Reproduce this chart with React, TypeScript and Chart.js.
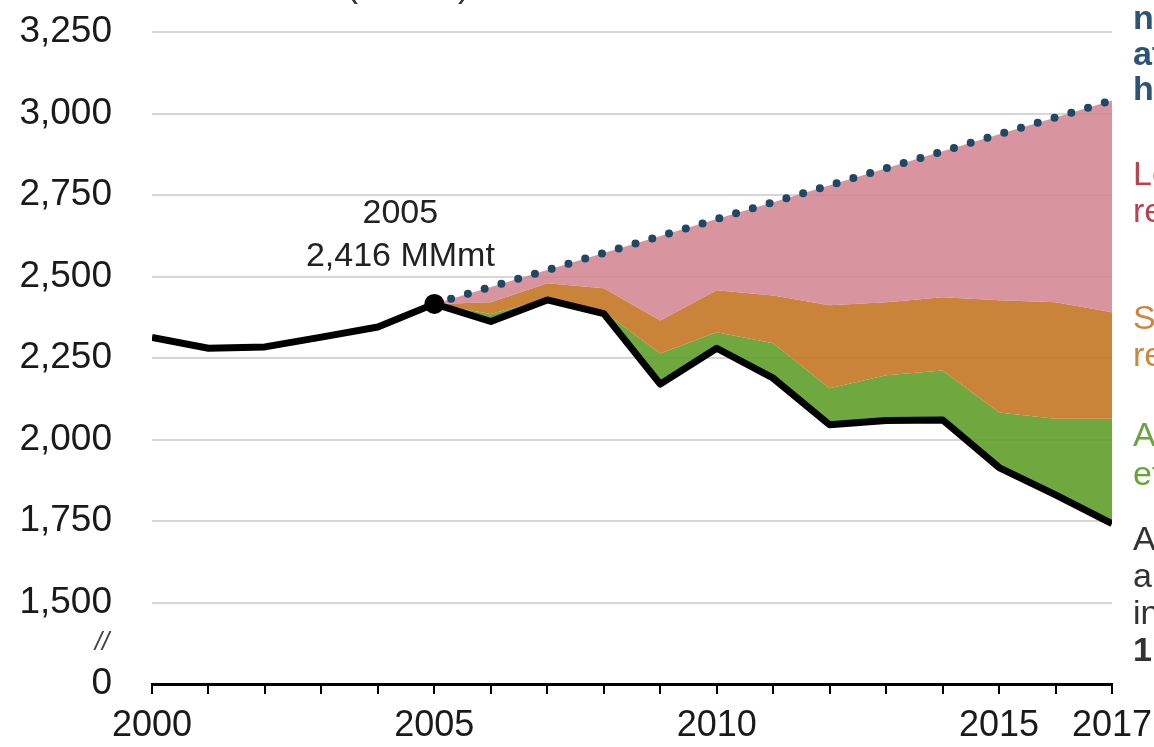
import React, { useEffect, useRef } from "react";
import { Chart, registerables } from "chart.js";

Chart.register(...registerables);

const years = [2000, 2001, 2002, 2003, 2004, 2005, 2006, 2007, 2008, 2009, 2010, 2011, 2012, 2013, 2014, 2015, 2016, 2017];
const actualEmissions = [2313, 2280, 2284, 2314, 2345, 2416, 2362, 2428, 2386, 2170, 2280, 2188, 2045, 2058, 2060, 1914, 1830, 1742];
const efficiencyTop = [null, null, null, null, null, 2416, 2385, 2432, 2392, 2264, 2329, 2295, 2157, 2197, 2212, 2083, 2064, 2064];
const switchTop = [null, null, null, null, null, 2416, 2421, 2479, 2464, 2365, 2458, 2442, 2412, 2421, 2436, 2427, 2421, 2390];
const trendNoAction = [null, null, null, null, null, 2416, 2468, 2520, 2572, 2624, 2676, 2728, 2780, 2832, 2884, 2936, 2988, 3040];
const labeledYears = [2000, 2005, 2010, 2015, 2017];
const yTicks = [1250, 1500, 1750, 2000, 2250, 2500, 2750, 3000, 3250];
const yTickLabels = ["0", "1,500", "1,750", "2,000", "2,250", "2,500", "2,750", "3,000", "3,250"];

const rightLabels = [
  { lines: ["no changes", "at 2005 rates", "had occurred"], color: "#2c5575", bold: true, y: [20, 56, 91] },
  { lines: ["Lower-carbon", "renewables"], color: "#b4444f", bold: false, y: [176, 213] },
  { lines: ["Switch to", "resources"], color: "#c9883f", bold: false, y: [320, 357] },
  { lines: ["Avoided", "efficiency"], color: "#6aa33d", bold: false, y: [437, 476] },
  { lines: ["Actual", "annual emissions", "in 2017", "1,742 MMmt"], color: "#333333", bold: false, y: [541, 578, 615, 652], lastBold: true },
];

const FONT = "'Liberation Sans', Arial, sans-serif";

const toPts = (arr: (number | null)[]) => years.map((yr, i) => ({ x: yr, y: arr[i] }));

const extrasPlugin = {
  id: "extras",
  afterDraw(chart: any) {
    const ctx = chart.ctx;
    const xs = chart.scales.x;
    const ys = chart.scales.y;
    ctx.save();
    const px = xs.getPixelForValue(2005);
    const py = ys.getPixelForValue(actualEmissions[5]);
    ctx.fillStyle = "#222";
    ctx.font = `34px ${FONT}`;
    ctx.textAlign = "center";
    ctx.textBaseline = "middle";
    ctx.fillText("2005", px - 34, py - 90);
    ctx.fillText("2,416 MMmt", px - 34, py - 47);
    ctx.font = `italic 26px ${FONT}`;
    ctx.fillStyle = "#444";
    ctx.fillText("//", 102, (ys.getPixelForValue(1500) + ys.getPixelForValue(1250)) / 2);
    ctx.font = `36px ${FONT}`;
    ctx.textAlign = "left";
    ctx.textBaseline = "alphabetic";
    ctx.fillStyle = "#333";
    ctx.fillText("(MMmt)", 346, -4);
    ctx.textAlign = "left";
    ctx.textBaseline = "middle";
    const lx = chart.chartArea.right + 21;
    rightLabels.forEach((g) => {
      ctx.fillStyle = g.color;
      g.lines.forEach((t, i) => {
        const bold = g.bold || (g.lastBold && i === g.lines.length - 1);
        ctx.font = `${bold ? "bold " : ""}34px ${FONT}`;
        ctx.fillText(t, lx, g.y[i]);
      });
    });
    ctx.restore();
  },
};

export default function App() {
  const ref = useRef<HTMLCanvasElement | null>(null);
  useEffect(() => {
    if (!ref.current) return;
    const chart = new Chart(ref.current, {
      type: "line",
      data: {
        datasets: [
          {
            label: "Actual emissions",
            data: toPts(actualEmissions),
            borderColor: "#000",
            borderWidth: 7,
            fill: false,
            order: 0,
            borderJoinStyle: "round",
            pointRadius: (c: any) => (c.dataIndex === 5 ? 10 : 0),
            pointBackgroundColor: "#000",
            pointBorderWidth: 0,
          },
          {
            label: "Efficiency",
            data: toPts(efficiencyTop),
            borderWidth: 0,
            borderColor: "rgba(0,0,0,0)",
            backgroundColor: "rgba(96,158,43,0.9)",
            fill: 0,
            pointRadius: 0,
            order: 3,
          },
          {
            label: "Switch",
            data: toPts(switchTop),
            borderWidth: 0,
            borderColor: "rgba(0,0,0,0)",
            backgroundColor: "rgba(195,119,36,0.9)",
            fill: 1,
            pointRadius: 0,
            order: 2,
          },
          {
            label: "Trend",
            data: toPts(trendNoAction),
            borderColor: "#1e4866",
            borderWidth: 8,
            borderDash: [0, 17.5],
            borderCapStyle: "round",
            backgroundColor: "rgba(210,130,142,0.85)",
            fill: 2,
            pointRadius: 0,
            order: 1,
          },
        ],
      },
      options: {
        animation: false,
        responsive: false,
        events: [],
        layout: { padding: { left: 0, right: 42, top: 32, bottom: 0 } },
        plugins: { legend: { display: false }, tooltip: { enabled: false } },
        scales: {
          x: {
            type: "linear",
            min: 2000,
            max: 2017,
            afterBuildTicks: (s: any) => {
              s.ticks = years.map((v) => ({ value: v }));
            },
            afterFit: (s: any) => {
              s.height = 63;
              s.paddingLeft = 0;
              s.paddingRight = 0;
            },
            ticks: {
              autoSkip: false,
              maxRotation: 0,
              padding: 10,
              color: "#1a1a1a",
              font: { family: FONT, size: 36 },
              callback: (v: any) => (labeledYears.includes(Number(v)) ? String(v) : ""),
            },
            grid: {
              drawOnChartArea: false,
              drawTicks: true,
              tickLength: 10,
              tickColor: "#000",
              lineWidth: 2,
            },
            border: { display: true, color: "#000", width: 3 },
          },
          y: {
            type: "linear",
            min: 1250,
            max: 3250,
            afterBuildTicks: (s: any) => {
              s.ticks = yTicks.map((v) => ({ value: v }));
            },
            afterFit: (s: any) => {
              s.width = 152;
              s.paddingTop = 0;
              s.paddingBottom = 0;
            },
            ticks: {
              padding: 40,
              color: "#1a1a1a",
              font: { family: FONT, size: 37 },
              callback: (v: any) => {
                const i = yTicks.indexOf(Number(v));
                return i >= 0 ? yTickLabels[i] : "";
              },
            },
            grid: {
              drawTicks: false,
              color: (c: any) => (c.tick && c.tick.value === 1250 ? "rgba(0,0,0,0)" : "#d6d6d6"),
              lineWidth: 2,
            },
            border: { display: false },
          },
        },
      },
      plugins: [extrasPlugin],
    } as any);
    return () => chart.destroy();
  }, []);
  return (
    <div style={{ position: "fixed", left: 0, top: 0, width: 1154, height: 747, background: "#fff" }}>
      <canvas ref={ref} width={1154} height={747} style={{ width: 1154, height: 747, display: "block" }} />
    </div>
  );
}
